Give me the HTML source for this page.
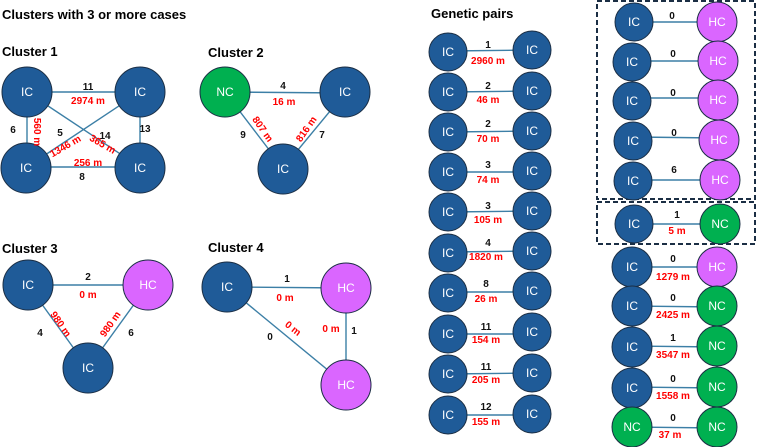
<!DOCTYPE html>
<html><head><meta charset="utf-8"><style>
html,body{margin:0;padding:0;background:#fff;}
svg{display:block;font-family:"Liberation Sans",Arial,sans-serif;}
.t{font-weight:bold;font-size:13px;fill:#000}
.b{font-weight:bold;font-size:10px;fill:#111;text-anchor:middle}
.r{font-weight:bold;font-size:10px;fill:#f00;text-anchor:middle}
.n{font-size:12px;fill:#fff;text-anchor:middle;dominant-baseline:central}
.ic{fill:#1f5b98;stroke:#1b2e44;stroke-width:1}
.nc{fill:#00b050;stroke:#1b2e44;stroke-width:1}
.hc{fill:#da66ff;stroke:#1b2e44;stroke-width:1}
line{stroke:#3c7fa6;stroke-width:1.4}
</style></head><body>
<svg width="758" height="447" viewBox="0 0 758 447" xmlns="http://www.w3.org/2000/svg">
<text x="2" y="19" class="t">Clusters with 3 or more cases</text>
<text x="2" y="56" class="t">Cluster 1</text>
<text x="208" y="57" class="t">Cluster 2</text>
<text x="2" y="253" class="t">Cluster 3</text>
<text x="208" y="252" class="t">Cluster 4</text>
<text x="431" y="18" class="t">Genetic pairs</text>

<!-- Cluster 1 -->
<line x1="27" y1="92" x2="140" y2="92"/>
<line x1="27" y1="92" x2="27" y2="167"/>
<line x1="140" y1="92" x2="140" y2="167"/>
<line x1="27" y1="167" x2="140" y2="167"/>
<line x1="27" y1="92" x2="140" y2="167"/>
<line x1="140" y1="92" x2="27" y2="167"/>
<circle cx="27" cy="92" r="25" class="ic"/><text x="27" y="92" class="n">IC</text>
<circle cx="140" cy="92" r="25" class="ic"/><text x="140" y="92" class="n">IC</text>
<circle cx="26" cy="168" r="25" class="ic"/><text x="26" y="168" class="n">IC</text>
<circle cx="140" cy="168" r="25" class="ic"/><text x="140" y="168" class="n">IC</text>
<text x="88" y="90" class="b">11</text>
<text x="88" y="104" class="r">2974 m</text>
<text x="13" y="133" class="b">6</text>
<text x="0" y="0" class="r" transform="translate(34,132) rotate(90)">560 m</text>
<text x="60" y="136" class="b">5</text>
<text x="105" y="139" class="b">14</text>
<text x="145" y="132" class="b">13</text>
<text x="0" y="0" class="r" transform="translate(67,149) rotate(-30)">1346 m</text>
<text x="0" y="0" class="r" transform="translate(101,147) rotate(30)">365 m</text>
<text x="88" y="166" class="r">256 m</text>
<text x="82" y="180" class="b">8</text>

<!-- Cluster 2 -->
<line x1="225" y1="92" x2="345" y2="93"/>
<line x1="225" y1="92" x2="283" y2="168"/>
<line x1="345" y1="93" x2="283" y2="168"/>
<circle cx="225" cy="92" r="25" class="nc"/><text x="225" y="92" class="n">NC</text>
<circle cx="345" cy="92" r="25" class="ic"/><text x="345" y="92" class="n">IC</text>
<circle cx="283" cy="169" r="25" class="ic"/><text x="283" y="169" class="n">IC</text>
<text x="283" y="89" class="b">4</text>
<text x="284" y="105" class="r">16 m</text>
<text x="243" y="138" class="b">9</text>
<text x="0" y="0" class="r" transform="translate(260,131) rotate(55)">807 m</text>
<text x="0" y="0" class="r" transform="translate(309,131) rotate(-55)">816 m</text>
<text x="322" y="138" class="b">7</text>

<!-- Cluster 3 -->
<line x1="28" y1="285" x2="148" y2="285"/>
<line x1="28" y1="285" x2="88" y2="368"/>
<line x1="148" y1="285" x2="88" y2="368"/>
<circle cx="28" cy="285" r="25" class="ic"/><text x="28" y="285" class="n">IC</text>
<circle cx="148" cy="285" r="25" class="hc"/><text x="148" y="285" class="n">HC</text>
<circle cx="88" cy="368" r="25" class="ic"/><text x="88" y="368" class="n">IC</text>
<text x="88" y="280" class="b">2</text>
<text x="88" y="298" class="r">0 m</text>
<text x="40" y="336" class="b">4</text>
<text x="0" y="0" class="r" transform="translate(58,326) rotate(55)">980 m</text>
<text x="0" y="0" class="r" transform="translate(113,326) rotate(-55)">980 m</text>
<text x="131" y="336" class="b">6</text>

<!-- Cluster 4 -->
<line x1="227" y1="287" x2="346" y2="288"/>
<line x1="227" y1="287" x2="346" y2="385"/>
<line x1="346" y1="288" x2="346" y2="385"/>
<circle cx="227" cy="287" r="25" class="ic"/><text x="227" y="287" class="n">IC</text>
<circle cx="346" cy="288" r="25" class="hc"/><text x="346" y="288" class="n">HC</text>
<circle cx="346" cy="385" r="25" class="hc"/><text x="346" y="385" class="n">HC</text>
<text x="287" y="282" class="b">1</text>
<text x="285" y="301" class="r">0 m</text>
<text x="0" y="0" class="r" transform="translate(291,331) rotate(38)">0 m</text>
<text x="270" y="340" class="b">0</text>
<text x="331" y="332" class="r">0 m</text>
<text x="354" y="334" class="b">1</text>

<!-- Genetic pairs left column -->
<g>
<line x1="448" y1="51" x2="532" y2="50"/><circle cx="448" cy="52" r="19" class="ic"/><text x="448" y="52" class="n">IC</text><circle cx="532" cy="50" r="19" class="ic"/><text x="532" y="50" class="n">IC</text><text x="488" y="48" class="b">1</text><text x="488" y="64" class="r">2960 m</text>
<line x1="448" y1="92" x2="532" y2="91"/><circle cx="448" cy="92" r="19" class="ic"/><text x="448" y="92" class="n">IC</text><circle cx="532" cy="91" r="19" class="ic"/><text x="532" y="91" class="n">IC</text><text x="488" y="89" class="b">2</text><text x="488" y="103" class="r">46 m</text>
<line x1="448" y1="132" x2="532" y2="131"/><circle cx="448" cy="132" r="19" class="ic"/><text x="448" y="132" class="n">IC</text><circle cx="532" cy="131" r="19" class="ic"/><text x="532" y="131" class="n">IC</text><text x="488" y="127" class="b">2</text><text x="488" y="142" class="r">70 m</text>
<line x1="448" y1="172" x2="532" y2="172"/><circle cx="448" cy="172" r="19" class="ic"/><text x="448" y="172" class="n">IC</text><circle cx="532" cy="171" r="19" class="ic"/><text x="532" y="171" class="n">IC</text><text x="488" y="168" class="b">3</text><text x="488" y="183" class="r">74 m</text>
<line x1="448" y1="212" x2="532" y2="211"/><circle cx="448" cy="212" r="19" class="ic"/><text x="448" y="212" class="n">IC</text><circle cx="532" cy="211" r="19" class="ic"/><text x="532" y="211" class="n">IC</text><text x="488" y="209" class="b">3</text><text x="488" y="223" class="r">105 m</text>
<line x1="448" y1="252" x2="532" y2="251"/><circle cx="448" cy="253" r="19" class="ic"/><text x="448" y="253" class="n">IC</text><circle cx="532" cy="251" r="19" class="ic"/><text x="532" y="251" class="n">IC</text><text x="488" y="246" class="b">4</text><text x="486" y="260" class="r">1820 m</text>
<line x1="448" y1="292" x2="532" y2="292"/><circle cx="448" cy="293" r="19" class="ic"/><text x="448" y="293" class="n">IC</text><circle cx="532" cy="291" r="19" class="ic"/><text x="532" y="291" class="n">IC</text><text x="486" y="287" class="b">8</text><text x="486" y="302" class="r">26 m</text>
<line x1="448" y1="334" x2="532" y2="334"/><circle cx="448" cy="334" r="19" class="ic"/><text x="448" y="334" class="n">IC</text><circle cx="532" cy="332" r="19" class="ic"/><text x="532" y="332" class="n">IC</text><text x="486" y="330" class="b">11</text><text x="486" y="343" class="r">154 m</text>
<line x1="448" y1="374" x2="532" y2="373"/><circle cx="448" cy="374" r="19" class="ic"/><text x="448" y="374" class="n">IC</text><circle cx="532" cy="373" r="19" class="ic"/><text x="532" y="373" class="n">IC</text><text x="486" y="370" class="b">11</text><text x="486" y="383" class="r">205 m</text>
<line x1="448" y1="415" x2="532" y2="415"/><circle cx="448" cy="415" r="19" class="ic"/><text x="448" y="415" class="n">IC</text><circle cx="532" cy="414" r="19" class="ic"/><text x="532" y="414" class="n">IC</text><text x="486" y="410" class="b">12</text><text x="486" y="425" class="r">155 m</text>
</g>

<!-- Right column -->
<rect x="597" y="1" width="158" height="198" fill="none" stroke="#1b2e44" stroke-width="2" stroke-dasharray="5,3"/>
<rect x="597" y="202" width="158" height="42" fill="none" stroke="#1b2e44" stroke-width="2" stroke-dasharray="5,3"/>
<g>
<line x1="634" y1="22" x2="717" y2="22"/><circle cx="634" cy="22" r="19" class="ic"/><text x="634" y="22" class="n">IC</text><circle cx="717" cy="22" r="20" class="hc"/><text x="717" y="22" class="n">HC</text><text x="672" y="19" class="b">0</text>
<line x1="632" y1="61" x2="717" y2="61"/><circle cx="632" cy="62" r="19" class="ic"/><text x="632" y="62" class="n">IC</text><circle cx="718" cy="61" r="20" class="hc"/><text x="718" y="61" class="n">HC</text><text x="673" y="57" class="b">0</text>
<line x1="632" y1="98" x2="717" y2="98"/><circle cx="632" cy="101" r="19" class="ic"/><text x="632" y="101" class="n">IC</text><circle cx="718" cy="100" r="20" class="hc"/><text x="718" y="100" class="n">HC</text><text x="673" y="96" class="b">0</text>
<line x1="634" y1="137" x2="717" y2="138"/><circle cx="633" cy="141" r="19" class="ic"/><text x="633" y="141" class="n">IC</text><circle cx="719" cy="140" r="20" class="hc"/><text x="719" y="140" class="n">HC</text><text x="674" y="136" class="b">0</text>
<line x1="634" y1="180" x2="717" y2="180"/><circle cx="633" cy="181" r="19" class="ic"/><text x="633" y="181" class="n">IC</text><circle cx="720" cy="180" r="20" class="hc"/><text x="720" y="180" class="n">HC</text><text x="674" y="173" class="b">6</text>
<line x1="634" y1="224" x2="719" y2="224"/><circle cx="634" cy="224" r="19" class="ic"/><text x="634" y="224" class="n">IC</text><circle cx="720" cy="224" r="20" class="nc"/><text x="720" y="224" class="n">NC</text><text x="677" y="218" class="b">1</text><text x="677" y="234" class="r">5 m</text>
<line x1="632" y1="267" x2="718" y2="267"/><circle cx="632" cy="267" r="20" class="ic"/><text x="632" y="267" class="n">IC</text><circle cx="717" cy="267" r="20" class="hc"/><text x="717" y="267" class="n">HC</text><text x="673" y="262" class="b">0</text><text x="673" y="280" class="r">1279 m</text>
<line x1="632" y1="306" x2="718" y2="307"/><circle cx="632" cy="306" r="20" class="ic"/><text x="632" y="306" class="n">IC</text><circle cx="717" cy="306" r="20" class="nc"/><text x="717" y="306" class="n">NC</text><text x="673" y="301" class="b">0</text><text x="673" y="318" class="r">2425 m</text>
<line x1="632" y1="346" x2="718" y2="347"/><circle cx="632" cy="347" r="20" class="ic"/><text x="632" y="347" class="n">IC</text><circle cx="717" cy="346" r="20" class="nc"/><text x="717" y="346" class="n">NC</text><text x="673" y="341" class="b">1</text><text x="673" y="358" class="r">3547 m</text>
<line x1="632" y1="387" x2="718" y2="388"/><circle cx="632" cy="388" r="20" class="ic"/><text x="632" y="388" class="n">IC</text><circle cx="717" cy="387" r="20" class="nc"/><text x="717" y="387" class="n">NC</text><text x="673" y="382" class="b">0</text><text x="673" y="399" class="r">1558 m</text>
<line x1="632" y1="427" x2="718" y2="428"/><circle cx="632" cy="427" r="20" class="nc"/><text x="632" y="427" class="n">NC</text><circle cx="717" cy="427" r="20" class="nc"/><text x="717" y="427" class="n">NC</text><text x="673" y="421" class="b">0</text><text x="670" y="438" class="r">37 m</text>
</g>
</svg>
</body></html>
